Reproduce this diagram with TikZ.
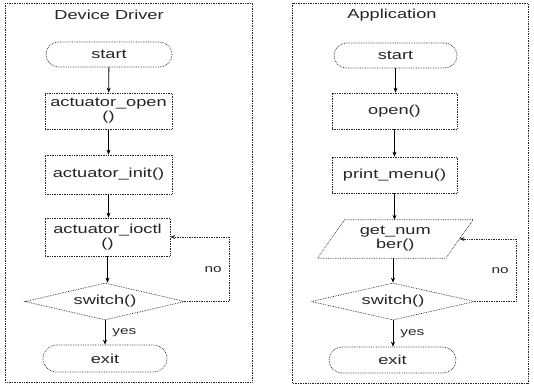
\documentclass[tikz,border=0pt]{standalone}
\usepackage{fontspec}
\setmainfont{Liberation Sans}[FakeStretch=1.4]
\usetikzlibrary{shapes.geometric,shapes.misc,arrows.meta}
\begin{document}
\begin{tikzpicture}[x=1pt,y=-1pt,
  font=\fontsize{13}{14}\selectfont,
  every node/.style={text=black!85},
  outline/.style={draw=black!85, line width=0.7pt, densely dotted},
  frame/.style={outline},
  termbox/.style={outline, rounded rectangle, inner sep=0pt, align=center},
  procbox/.style={outline, rectangle, inner sep=0pt, align=center},
  decide/.style={outline, diamond, inner sep=0pt, aspect=4.4},
  iobox/.style={rectangle, inner sep=0pt, align=center},
  flow/.style={draw=black, line width=0.8pt, -{Stealth[length=5pt,width=4pt]}},
  loopback/.style={draw=black!85, line width=0.7pt, densely dotted, -{Stealth[length=5pt,width=4pt]}},
  tag/.style={inner sep=1pt, font=\fontsize{11}{12}\selectfont}]
\path[use as bounding box, fill=white] (0,0) rectangle (534,388);

% ---------- Device Driver ----------
\draw[frame] (5,3) rectangle (252,382);
\node (titleL) at (109,15) {Device Driver};
\node[termbox, minimum width=126pt, minimum height=25pt] (startL) at (109,54.5) {start};
\node[procbox, minimum width=127pt, minimum height=36pt] (openL) at (108.5,111) {actuator\_open\\()};
\node[procbox, minimum width=127pt, minimum height=39pt] (initL) at (108.5,174.5) {actuator\_init()};
\node[procbox, minimum width=125pt, minimum height=38pt] (ioctlL) at (107.5,237) {actuator\_ioctl\\()};
\node[decide, minimum width=160pt, minimum height=37pt] (switchL) at (105,301.5) {switch()};
\node[termbox, minimum width=124pt, minimum height=27pt] (exitL) at (105,358.5) {exit};
\coordinate (loopL) at (229,301.5);

\draw[flow] (startL) -- (openL);
\draw[flow] (openL) -- (initL);
\draw[flow] (initL.south) -- (initL.south |- ioctlL.north);
\draw[flow] (ioctlL.south) -- (ioctlL.south |- switchL.north);
\draw[flow] (switchL.south) -- node[tag, right=6pt] (yesL) {yes} (switchL.south |- exitL.north);
\draw[loopback] (switchL.east) -- (loopL) |- node[tag, pos=0.25, left=6pt] (noL) {no} (ioctlL.east);

% ---------- Application ----------
\draw[frame] (292,3) rectangle (528,383);
\node (titleR) at (392,15) {Application};
\node[termbox, minimum width=123pt, minimum height=25pt] (startR) at (395.5,55.5) {start};
\node[procbox, minimum width=125pt, minimum height=36pt] (openR) at (394.5,111) {open()};
\node[procbox, minimum width=125pt, minimum height=36pt] (menuR) at (394.5,175) {print\_menu()};
\node[iobox, minimum width=128pt, minimum height=38pt] (numR) at (395.25,239) {get\_num\\ber()};
\draw[outline] ([xshift=13.5pt]numR.north west) -- ([xshift=13.5pt]numR.north east)
  -- ([xshift=-13.5pt]numR.south east) -- ([xshift=-13.5pt]numR.south west) -- cycle;
\node[decide, minimum width=164pt, minimum height=37pt] (switchR) at (393,301.5) {switch()};
\node[termbox, minimum width=127pt, minimum height=26pt] (exitR) at (392.5,360) {exit};
\coordinate (loopR) at (516,301.5);

\draw[flow] (startR.south) -- (startR.south |- openR.north);
\draw[flow] (openR) -- (menuR);
\draw[flow] (menuR.south) -- (menuR.south |- numR.north);
\draw[flow] (numR.south -| switchR.north) -- (switchR.north);
\draw[flow] (switchR.south) -- node[tag, right=6pt] (yesR) {yes} (switchR.south |- exitR.north);
\draw[loopback] (switchR.east) -- (loopR) |- node[tag, pos=0.25, left=6pt] (noR) {no} (numR.east);
\end{tikzpicture}
\end{document}
